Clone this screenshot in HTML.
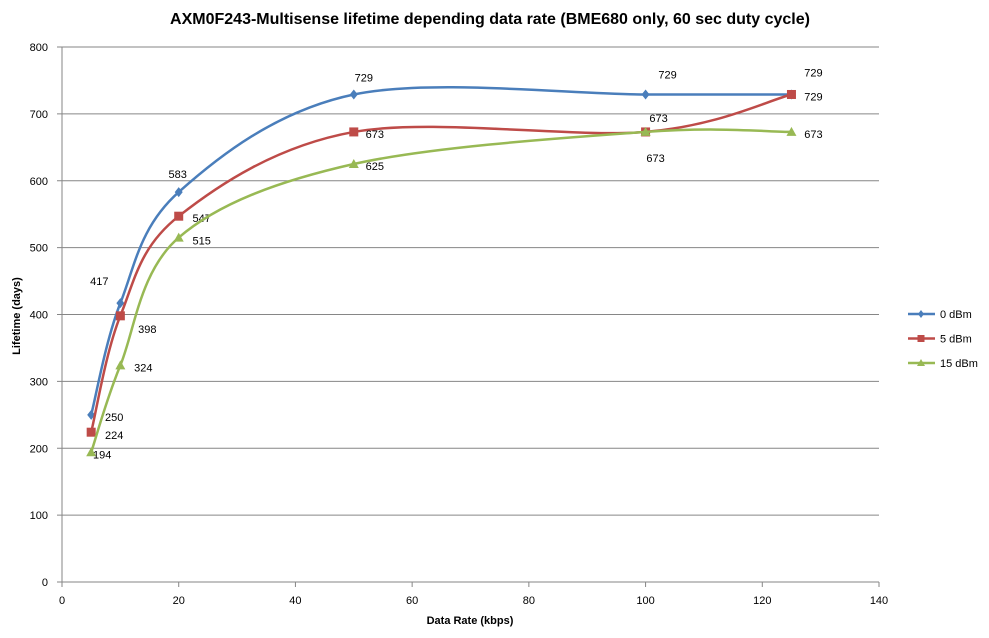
<!DOCTYPE html>
<html><head><meta charset="utf-8"><style>
body{margin:0;background:#fff;}
svg{display:block;font-family:"Liberation Sans",Arial,sans-serif;}
</style></head><body>
<svg id="chart" width="989" height="638">
<text x="490" y="24" text-anchor="middle" font-size="16" font-weight="bold" fill="#000">AXM0F243-Multisense  lifetime depending data rate (BME680 only, 60 sec duty cycle)</text>
<g id="grid"></g><g id="axes"></g><g id="series"></g><g id="legend"></g>
<text x="470" y="624" text-anchor="middle" font-size="11" font-weight="bold">Data Rate (kbps)</text>
<text transform="translate(20,316) rotate(-90)" text-anchor="middle" font-size="11" font-weight="bold">Lifetime (days)</text>
</svg>
<script>
const xValues=[5,10,20,50,100,125];
const seriesNames=["0 dBm","5 dBm","15 dBm"];
const s0=[250,417,583,729,729,729];
const s1=[224,398,547,673,673,729];
const s2=[194,324,515,625,673,673];
const xTicks=[0,20,40,60,80,100,120,140];
const yTicks=[0,100,200,300,400,500,600,700,800];

const NS="http://www.w3.org/2000/svg";
const X0=62,X1=879,Y0=582,Y1=47;
const xs=v=>X0+(v-0)/(140-0)*(X1-X0);
const ys=v=>Y0-(v-0)/(800-0)*(Y0-Y1);
function mk(tag,attrs,parent){const e=document.createElementNS(NS,tag);for(const k in attrs)e.setAttribute(k,attrs[k]);parent.appendChild(e);return e;}
const grid=document.getElementById('grid'),axes=document.getElementById('axes'),ser=document.getElementById('series'),leg=document.getElementById('legend');
yTicks.forEach(t=>{
  if(t>0){const l=mk('line',{x1:X0,x2:X1,y1:ys(t),y2:ys(t),stroke:'#868686','stroke-width':1},grid);
  
  }
  const tx=mk('text',{x:X0-14,y:ys(t)+4,'text-anchor':'end','font-size':11},axes);tx.textContent=t;
  
  
  mk('line',{x1:X0-5,x2:X0,y1:ys(t),y2:ys(t),stroke:'#868686'},axes);
});
xTicks.forEach(t=>{
  const tx=mk('text',{x:xs(t),y:Y0+22,'text-anchor':'middle','font-size':11},axes);tx.textContent=t;
  
  
  mk('line',{x1:xs(t),x2:xs(t),y1:Y0,y2:Y0+5,stroke:'#868686'},axes);
});
mk('line',{x1:X0,x2:X0,y1:Y1,y2:Y0,stroke:'#868686'},axes);
mk('line',{x1:X0,x2:X1,y1:Y0,y2:Y0,stroke:'#868686'},axes);

const colors=["#4A7EBB","#BE4B48","#98B954"];
const labelOff=[
 [[23,5],[-21,-19],[-1,-15],[10,-14],[22,-17],[22,-19]],
 [[23,6],[27,16],[23,5],[21,5],[13,-11],[22,5]],
 [[11,5],[23,5],[23,6],[21,5],[10,29],[22,5]]
];
[s0,s1,s2].forEach((vals,si)=>{
  const p=xValues.map((x,i)=>[xs(x),ys(vals[i])]);
  let d=`M${p[0][0]},${p[0][1]}`;
  for(let i=0;i<p.length-1;i++){
    const a=p[Math.max(0,i-1)],b=p[i],c=p[i+1],e=p[Math.min(p.length-1,i+2)];
    const c1=[b[0]+(c[0]-a[0])/6,b[1]+(c[1]-a[1])/6],c2=[c[0]-(e[0]-b[0])/6,c[1]-(e[1]-b[1])/6];
    d+=` C${c1[0]},${c1[1]} ${c2[0]},${c2[1]} ${c[0]},${c[1]}`;
  }
  const path=mk('path',{d,fill:'none',stroke:colors[si],'stroke-width':2.5},ser);
  
  
  p.forEach((q,i)=>{
    let m;
    if(si===0)m=mk('path',{d:`M${q[0]},${q[1]-5}L${q[0]+4},${q[1]}L${q[0]},${q[1]+5}L${q[0]-4},${q[1]}Z`,fill:colors[si]},ser);
    else if(si===1)m=mk('rect',{x:q[0]-4.5,y:q[1]-4.5,width:9,height:9,fill:colors[si]},ser);
    else m=mk('path',{d:`M${q[0]},${q[1]-5}L${q[0]+5},${q[1]+4}L${q[0]-5},${q[1]+4}Z`,fill:colors[si]},ser);
    
    
    const o=labelOff[si][i];
    const t=mk('text',{x:q[0]+o[0],y:q[1]+o[1]+1,'text-anchor':'middle','font-size':11},ser);t.textContent=vals[i];
    
    
  });
  const ly=314+si*24.5;
  const g=mk('g',{},leg);
  
  
  mk('line',{x1:908,x2:935,y1:ly,y2:ly,stroke:colors[si],'stroke-width':2.5},g);
  if(si===0)mk('path',{d:`M921,${ly-4}L924,${ly}L921,${ly+4}L918,${ly}Z`,fill:colors[si]},g);
  else if(si===1)mk('rect',{x:917.5,y:ly-3.5,width:7,height:7,fill:colors[si]},g);
  else mk('path',{d:`M921,${ly-4}L925,${ly+3}L917,${ly+3}Z`,fill:colors[si]},g);
  const lt=mk('text',{x:940,y:ly+4,'font-size':11},g);lt.textContent=seriesNames[si];
});
</script>
</body></html>
